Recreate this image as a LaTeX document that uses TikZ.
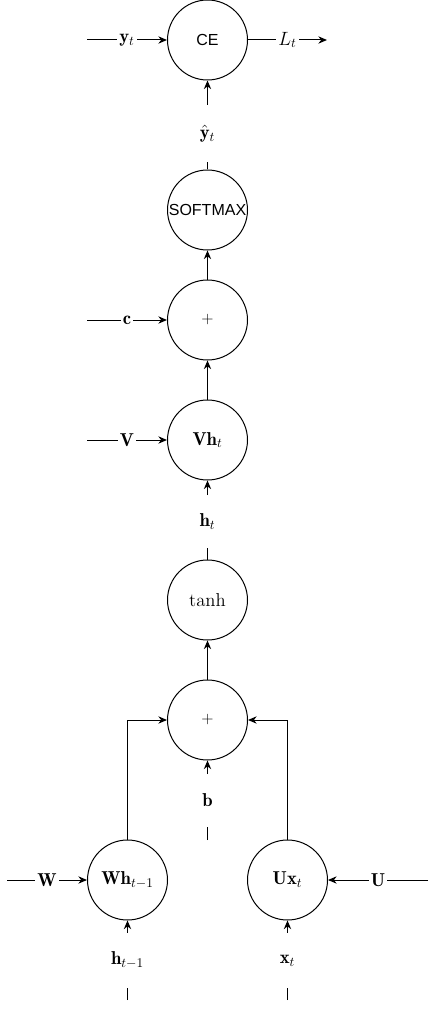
\documentclass[tikz,border=0pt]{standalone}
\usepackage{amsmath,amssymb}
\usepackage{fontspec}
\setsansfont{Liberation Sans}
\usepackage{tikz}
\usetikzlibrary{arrows.meta}
\newcommand{\RnnSize}{60pt}
\tikzset{
	RnnOp/.style={draw, circle, minimum size=\RnnSize, inner sep=0pt, line width=0.75pt},
	RnnLab/.style={minimum width=30pt, minimum height=39pt, inner sep=0pt},
	RnnArrow/.style={line width=0.75pt, -{Stealth[length=6.5pt,width=5.5pt]}},
	RnnLine/.style={line width=0.75pt},
	RnnOnLine/.style={fill=white, inner sep=1.5pt}
}

\begin{document}
\begin{tikzpicture}[x=0.75pt,y=-0.75pt,font=\fontsize{14}{16}\selectfont]
		\useasboundingbox (0,0) rectangle (436,1009);
		% Операции
		\node[RnnOp, font=\sffamily\fontsize{12}{14}\selectfont] (CE) at (207.5,40) {CE};
		\node[RnnOp, font=\sffamily\fontsize{12}{14}\selectfont] (SOFTMAX) at (207.5,210) {SOFTMAX};
		\node[RnnOp, font=\fontsize{12}{14}\selectfont] (plusc) at (207.5,320) {+};
		\node[RnnOp] (Vh) at (207.5,440) {$\mathbf{Vh}_t$};
		\node[RnnOp] (tanh) at (207.5,600) {tanh};
		\node[RnnOp, font=\fontsize{12}{14}\selectfont] (plusb) at (207.5,720) {+};
		\node[RnnOp] (Wh) at (127.5,880) {$\mathbf{Wh}_{t-1}$};
		\node[RnnOp] (Ux) at (287.5,880) {$\mathbf{Ux}_t$};
		% Подписи
		\node[RnnLab, minimum height=43pt] (yhat) at (207.5,133.5) {$\hat{\mathbf{y}}_t$};
		\node[RnnLab] (ht) at (207.5,521.5) {$\mathbf{h}_t$};
		\node[RnnLab] (b) at (207.5,800.5) {$\mathbf{b}$};
		\node[RnnLab, minimum height=41pt] (htm) at (127.5,960.5) {$\mathbf{h}_{t-1}$};
		\node[RnnLab, minimum height=41pt] (xt) at (287.5,960.5) {$\mathbf{x}_t$};
		\coordinate (ytin) at (87,40);
		\coordinate (Lout) at (327,40);
		\coordinate (cin) at (87,320);
		\coordinate (Vin) at (87,440);
		\coordinate (Win) at (7,880);
		\coordinate (Uin) at (428,880);
		\coordinate (bin) at (207.5,840);
		\coordinate (htmin) at (127.5,1000);
		\coordinate (xtin) at (287.5,1000);
		% Связи
		\draw[RnnArrow] (ytin) -- node[RnnOnLine] {$\mathbf{y}_t$} (CE);
		\draw[RnnArrow] (CE) -- node[RnnOnLine] {$L_t$} (Lout);
		\draw[RnnLine] (SOFTMAX) -- (yhat); \draw[RnnArrow] (yhat) -- (CE);
		\draw[RnnArrow] (plusc) -- (SOFTMAX);
		\draw[RnnArrow] (cin) -- node[RnnOnLine] {$\mathbf{c}$} (plusc);
		\draw[RnnArrow] (Vh) -- (plusc);
		\draw[RnnArrow] (Vin) -- node[RnnOnLine] {$\mathbf{V}$} (Vh);
		\draw[RnnLine] (tanh) -- (ht); \draw[RnnArrow] (ht) -- (Vh);
		\draw[RnnArrow] (plusb) -- (tanh);
		\draw[RnnLine] (bin) -- (b); \draw[RnnArrow] (b) -- (plusb);
		\draw[RnnArrow] (Wh) |- (plusb);
		\draw[RnnArrow] (Ux) |- (plusb);
		\draw[RnnArrow] (Win) -- node[RnnOnLine] {$\mathbf{W}$} (Wh);
		\draw[RnnArrow] (Uin) -- node[RnnOnLine] {$\mathbf{U}$} (Ux);
		\draw[RnnLine] (htmin) -- (htm); \draw[RnnArrow] (htm) -- (Wh);
		\draw[RnnLine] (xtin) -- (xt); \draw[RnnArrow] (xt) -- (Ux);
\end{tikzpicture}
\end{document}
